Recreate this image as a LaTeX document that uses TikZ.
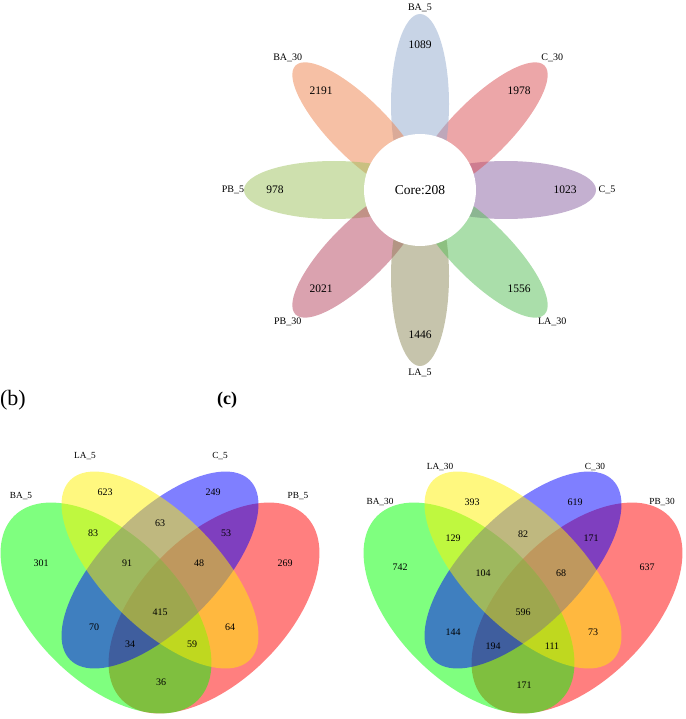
\documentclass[tikz,border=0pt]{standalone}
\usepackage{fontspec}
\setmainfont{Liberation Serif}
\usepackage{xcolor}
\usepackage{tikz}

\definecolor{cBAfive}{RGB}{145,169,205}
\definecolor{cBAthirty}{RGB}{237,129,75}
\definecolor{cCthirty}{RGB}{217,77,81}
\definecolor{cCfive}{RGB}{137,97,161}
\definecolor{cLAthirty}{RGB}{85,189,85}
\definecolor{cLAfive}{RGB}{141,137,89}
\definecolor{cPBthirty}{RGB}{181,69,95}
\definecolor{cPBfive}{RGB}{157,193,93}

\begin{document}
\begin{tikzpicture}[x = 1pt, y = 1pt,
  petal/.style = {fill opacity = 0.5},
  cnt/.style = {font = \fontsize{11.5}{13}\selectfont},
  tag/.style = {font = \fontsize{10}{12}\selectfont},
  vset/.style = {fill opacity = 0.5},
  vcnt/.style = {font = \fontsize{10}{12}\selectfont},
  vtag/.style = {font = \fontsize{9.3}{11}\selectfont}]
\useasboundingbox (0, 0) rectangle (685, -719);
\def\petalD{86}
\def\petalA{90pt}
\def\petalB{29pt}
\def\numD{145}
\def\numDd{140}
\def\tagD{187}
\def\bigA{130pt}
\def\bigB{73pt}
\def\midA{127pt}
\def\midB{57pt}

% flower (a)
\begin{scope}[shift = {(420, -190)}]
\fill [petal, fill = cCfive] (0:\petalD) circle [x radius = \petalA, y radius = \petalB, rotate = 0];
\fill [petal, fill = cCthirty] (45:\petalD) circle [x radius = \petalA, y radius = \petalB, rotate = 45];
\fill [petal, fill = cBAfive] (90:\petalD) circle [x radius = \petalA, y radius = \petalB, rotate = 90];
\fill [petal, fill = cBAthirty] (135:\petalD) circle [x radius = \petalA, y radius = \petalB, rotate = 135];
\fill [petal, fill = cPBfive] (180:\petalD) circle [x radius = \petalA, y radius = \petalB, rotate = 180];
\fill [petal, fill = cPBthirty] (225:\petalD) circle [x radius = \petalA, y radius = \petalB, rotate = 225];
\fill [petal, fill = cLAfive] (270:\petalD) circle [x radius = \petalA, y radius = \petalB, rotate = 270];
\fill [petal, fill = cLAthirty] (315:\petalD) circle [x radius = \petalA, y radius = \petalB, rotate = 315];

% core
\node (core) [circle, fill = white, minimum size = 112pt, inner sep = 0pt, font = \fontsize{13.5}{15}\selectfont] at (0, 0) {Core:208};

% counts
\node (nCfive) [cnt] at (0:\numD) {1023};
\node (nCthirty) [cnt] at (45:\numDd) {1978};
\node (nBAfive) [cnt] at (90:\numD) {1089};
\node (nBAthirty) [cnt] at (135:\numDd) {2191};
\node (nPBfive) [cnt] at (180:\numD) {978};
\node (nPBthirty) [cnt] at (225:\numDd) {2021};
\node (nLAfive) [cnt] at (270:\numD) {1446};
\node (nLAthirty) [cnt] at (315:\numDd) {1556};

% sample names
\node (tCfive) [tag] at (0:\tagD) {C\_5};
\node (tCthirty) [tag] at (45:\tagD) {C\_30};
\node (tBAfive) [tag] at (90:182) {BA\_5};
\node (tBAthirty) [tag] at (135:\tagD) {BA\_30};
\node (tPBfive) [tag] at (180:\tagD) {PB\_5};
\node (tPBthirty) [tag] at (225:\tagD) {PB\_30};
\node (tLAfive) [tag] at (270:183) {LA\_5};
\node (tLAthirty) [tag] at (315:\tagD) {LA\_30};
\end{scope}

% panel letters
\node (pb) [font = \fontsize{22}{24}\selectfont] at (13, -400) {(b)};
\node (pc) [font = \fontsize{18}{20}\selectfont\bfseries] at (227, -400) {(c)};

% venn, day 5
\begin{scope}[shift = {(160, -612)}]
\fill [vset, red] (54, 4) circle [x radius = \bigA, y radius = \bigB, rotate = 45];
\fill [vset, green] (-54, 4) circle [x radius = \bigA, y radius = \bigB, rotate = -45];
\fill [vset, blue] (0, 42) circle [x radius = \midA, y radius = \midB, rotate = 45];
\fill [vset, yellow] (0, 42) circle [x radius = \midA, y radius = \midB, rotate = -45];

\node (lBA) [vtag] at (-139, 116) {BA\_5};
\node (lLA) [vtag] at (-75, 156) {LA\_5};
\node (lC) [vtag] at (60, 156) {C\_5};
\node (lPB) [vtag] at (138, 116) {PB\_5};

\node (l623) [vcnt] at (-55, 120) {623};
\node (l249) [vcnt] at (53, 120) {249};
\node (l301) [vcnt] at (-119, 49) {301};
\node (l269) [vcnt] at (125, 49) {269};
\node (l83) [vcnt] at (-67, 79) {83};
\node (l63) [vcnt] at (0, 89) {63};
\node (l53) [vcnt] at (66, 79) {53};
\node (l91) [vcnt] at (-33, 49) {91};
\node (l48) [vcnt] at (39, 49) {48};
\node (l415) [vcnt] at (0, 0) {415};
\node (l70) [vcnt] at (-66, -15) {70};
\node (l64) [vcnt] at (70, -15) {64};
\node (l34) [vcnt] at (-30, -32) {34};
\node (l59) [vcnt] at (32, -32) {59};
\node (l36) [vcnt] at (1, -70) {36};
\end{scope}

% venn, day 30
\begin{scope}[shift = {(523, -612)}]
\fill [vset, red] (54, 4) circle [x radius = \bigA, y radius = \bigB, rotate = 45];
\fill [vset, green] (-54, 4) circle [x radius = \bigA, y radius = \bigB, rotate = -45];
\fill [vset, blue] (0, 42) circle [x radius = \midA, y radius = \midB, rotate = 45];
\fill [vset, yellow] (0, 42) circle [x radius = \midA, y radius = \midB, rotate = -45];

\node (rBA) [vtag] at (-143, 110) {BA\_30};
\node (rLA) [vtag] at (-83, 145) {LA\_30};
\node (rC) [vtag] at (72, 145) {C\_30};
\node (rPB) [vtag] at (139, 110) {PB\_30};

\node (r393) [vcnt] at (-51, 110) {393};
\node (r619) [vcnt] at (52, 110) {619};
\node (r742) [vcnt] at (-123, 45) {742};
\node (r637) [vcnt] at (124, 45) {637};
\node (r129) [vcnt] at (-70, 74) {129};
\node (r82) [vcnt] at (0, 78) {82};
\node (r171a) [vcnt] at (68, 74) {171};
\node (r104) [vcnt] at (-40, 39) {104};
\node (r68) [vcnt] at (38, 39) {68};
\node (r596) [vcnt] at (0, 0) {596};
\node (r144) [vcnt] at (-70, -20) {144};
\node (r73) [vcnt] at (70, -20) {73};
\node (r194) [vcnt] at (-30, -34) {194};
\node (r111) [vcnt] at (29, -34) {111};
\node (r171b) [vcnt] at (1, -73) {171};
\end{scope}
\end{tikzpicture}
\end{document}
